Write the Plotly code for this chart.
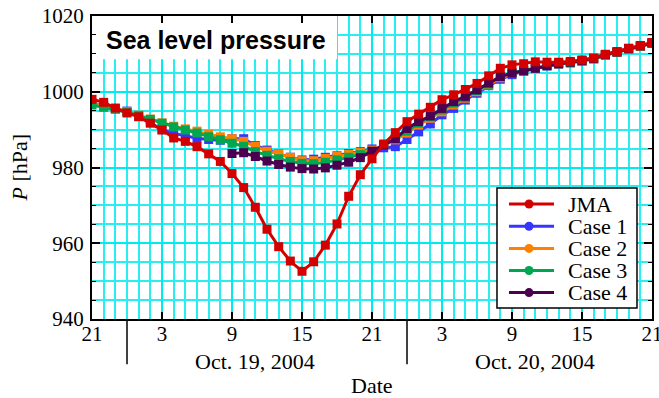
import plotly.graph_objects as go

hours = list(range(49))
tick_vals = [0, 6, 12, 18, 24, 30, 36, 42, 48]
tick_text = ["21", "3", "9", "15", "21", "3", "9", "15", "21"]
day_labels = ["Oct. 19, 2004", "Oct. 20, 2004"]
day_label_pos = [14, 38]
day_breaks = [3, 27]

jma = [998.0, 997.2, 995.7, 994.4, 993.4, 991.7, 989.9, 987.8, 986.9, 985.5,
       983.6, 981.6, 978.4, 974.7, 969.5, 963.7, 959.1, 955.3, 952.6, 955.1,
       959.5, 965.1, 972.4, 978.1, 982.3, 986.2, 989.2, 992.1, 994.1, 995.9,
       997.9, 999.2, 1000.6, 1002.2, 1004.2, 1006.2, 1007.1, 1007.4, 1007.9, 1007.8,
       1007.8, 1008.0, 1008.4, 1008.9, 1009.9, 1010.6, 1011.5, 1012.2, 1013.0]
case1 = [997.0, 996.4, 995.5, 994.9, 993.6, 991.9, 990.0, 989.0, 988.3, 987.7,
         987.4, 987.2, 987.6, 987.6, 985.8, 984.6, 983.6, 982.7, 982.0, 982.2,
         982.7, 983.1, 983.7, 984.2, 984.9, 985.2, 985.5, 987.4, 989.4, 991.5,
         993.9, 995.6, 997.8, 999.6, 1001.6, 1003.3, 1004.5, 1005.5, 1006.2, 1006.8,
         1007.3, 1007.6, 1008.1, 1008.7, 1009.7, 1010.4, 1011.3, 1012.0, 1012.8]
case2 = [997.0, 996.3, 995.5, 994.8, 993.8, 992.8, 991.8, 990.9, 990.2, 989.6,
         988.8, 988.1, 987.6, 986.9, 985.6, 984.3, 983.6, 982.7, 981.8, 981.8,
         982.4, 983.0, 983.5, 984.0, 984.6, 985.9, 987.3, 989.1, 991.2, 993.0,
         994.7, 996.5, 998.3, 1000.0, 1001.8, 1003.7, 1004.8, 1005.5, 1006.3, 1006.9,
         1007.4, 1007.7, 1008.2, 1008.7, 1009.7, 1010.4, 1011.3, 1012.0, 1012.8]
case3 = [996.5, 995.9, 995.4, 994.6, 993.7, 992.7, 991.7, 990.7, 989.9, 989.1,
         988.1, 987.3, 986.4, 985.6, 984.2, 983.2, 982.3, 981.6, 981.1, 981.0,
         981.4, 982.0, 982.7, 983.4, 984.2, 985.9, 987.6, 989.6, 991.7, 993.4,
         995.2, 997.0, 998.5, 1000.3, 1002.0, 1004.0, 1005.0, 1005.6, 1006.3, 1006.9,
         1007.4, 1007.7, 1008.2, 1008.7, 1009.7, 1010.5, 1011.3, 1012.1, 1012.8]
case4 = [None, None, None, None, None, None, None, None, None, None,
         None, None, 983.7, 983.9, 982.9, 981.7, 980.8, 980.1, 979.7, 979.6,
         979.9, 980.6, 981.4, 982.6, 984.3, 985.9, 987.6, 990.3, 992.1, 993.6,
         995.6, 997.4, 998.8, 1000.5, 1002.3, 1004.0, 1004.9, 1005.5, 1006.2, 1006.9,
         1007.4, 1007.8, 1008.2, 1008.8, 1009.8, 1010.5, 1011.4, 1012.1, 1012.9]

names = ["JMA", "Case 1", "Case 2", "Case 3", "Case 4"]
colors = ["#d40000", "#3535ff", "#ff8000", "#00a650", "#4b0050"]
series = [jma, case1, case2, case3, case4]

SERIF = "Liberation Serif"
fig = go.Figure()

# draw cases first, JMA last (on top)
for idx in [1, 2, 3, 4, 0]:
    fig.add_trace(go.Scatter(
        x=hours, y=series[idx], name=names[idx], mode="lines+markers",
        line=dict(color=colors[idx], width=3),
        marker=dict(symbol="square", size=9, color=colors[idx]),
        showlegend=False, connectgaps=False))

grid_major = "rgb(0,235,240)"
grid_minor = "rgb(40,238,242)"
fig.update_xaxes(
    range=[0, 48], tickvals=tick_vals, ticktext=tick_text,
    ticks="inside", ticklen=7, tickwidth=1.5, tickcolor="black",
    showline=True, linecolor="black", linewidth=2, mirror="allticks",
    showgrid=True, gridcolor=grid_major, gridwidth=2, zeroline=False,
    ticklabeloverflow="allow", automargin=False, ticklabelstandoff=-5,
    minor=dict(dtick=1, tick0=0, showgrid=True, gridcolor=grid_minor, gridwidth=1.6, ticks=""),
    tickfont=dict(family=SERIF, size=21, color="black"))
fig.update_yaxes(
    range=[940, 1020], dtick=20, tick0=940, automargin=False,
    ticks="inside", ticklen=8, tickwidth=1.5, tickcolor="black",
    showline=True, linecolor="black", linewidth=2, mirror="allticks",
    showgrid=True, gridcolor=grid_major, gridwidth=2, zeroline=False,
    minor=dict(dtick=5, tick0=940, showgrid=True, gridcolor=grid_minor, gridwidth=1.6,
               ticks="inside", ticklen=4, tickcolor="black", tickwidth=1),
    tickfont=dict(family=SERIF, size=21, color="black"), ticklabelstandoff=2)

shapes = []
# white box behind title (covers grid)
shapes.append(dict(type="rect", xref="x", yref="y", x0=0, x1=21, y0=1008.6, y1=1020,
                   fillcolor="white", line=dict(width=0), layer="between"))
for b in day_breaks:
    shapes.append(dict(type="line", xref="x", yref="paper", x0=b, x1=b, y0=0, y1=-0.149,
                       line=dict(color="black", width=1.5)))

# manual legend
lx0, lx1, ly0, ly1 = 0.7232, 0.9732, 0.0363, 0.4323
shapes.append(dict(type="rect", xref="paper", yref="paper", x0=lx0, x1=lx1, y0=ly0, y1=ly1,
                   fillcolor="white", line=dict(color="black", width=1.5), layer="above"))
rows = [0.3795, 0.306, 0.233, 0.160, 0.0871]
annotations = []
for name, col, ry in zip(names, colors, rows):
    shapes.append(dict(type="line", xref="paper", yref="paper", x0=0.7446, x1=0.825,
                       y0=ry, y1=ry, line=dict(color=col, width=3), layer="above"))
    shapes.append(dict(type="circle", xref="paper", yref="paper",
                       x0=0.7804 - 0.0080, x1=0.7804 + 0.0080,
                       y0=ry - 0.0149, y1=ry + 0.0149,
                       fillcolor=col, line=dict(color=col, width=0), layer="above"))
    annotations.append(dict(text=name, xref="paper", yref="paper", x=0.8464, y=ry,
                            xanchor="left", yanchor="middle", showarrow=False,
                            font=dict(family=SERIF, size=22, color="black")))

annotations.append(dict(text="<b>Sea level pressure</b>", xref="x", yref="y", x=1.0, y=1013.7,
                        xanchor="left", yanchor="middle", showarrow=False,
                        font=dict(family="Liberation Sans", size=25, color="black")))
for lab, pos in zip(day_labels, day_label_pos):
    annotations.append(dict(text=lab, xref="x", yref="paper", x=pos, y=-0.14,
                            xanchor="center", yanchor="middle", showarrow=False,
                            font=dict(family=SERIF, size=22, color="black")))
annotations.append(dict(text="Date", xref="x", yref="paper", x=24, y=-0.218,
                        xanchor="center", yanchor="middle", showarrow=False,
                        font=dict(family=SERIF, size=22, color="black")))
annotations.append(dict(text="<i>P</i> [hPa]", xref="paper", yref="paper", x=-0.1286, y=0.5,
                        xanchor="center", yanchor="middle", showarrow=False, textangle=-90,
                        font=dict(family=SERIF, size=22, color="black")))

fig.update_layout(
    width=659, height=398, margin=dict(l=92, r=7, t=16, b=79),
    paper_bgcolor="white", plot_bgcolor="white",
    shapes=shapes, annotations=annotations, showlegend=False)

fig.write_html("out.html")
